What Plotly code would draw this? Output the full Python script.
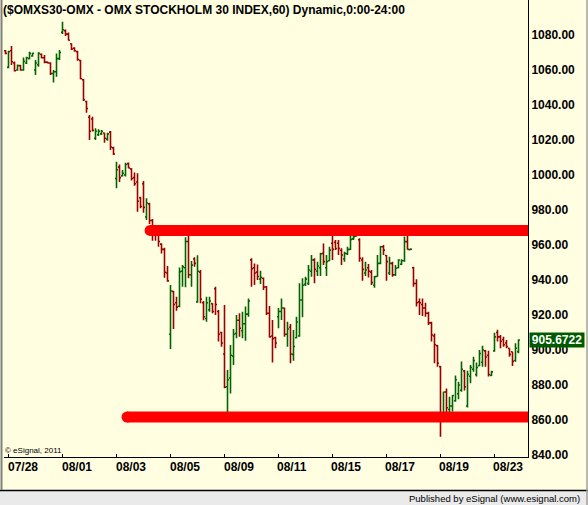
import plotly.graph_objects as go

# ---------------- data (hourly bars, index 0..171) ----------------
opens = [1071, 1061.5, 1071, 1064, 1060, 1062.5, 1060, 1064, 1066.5, 1068,
         1060, 1063, 1069, 1067, 1064.5, 1064, 1058, 1059, 1066.5,
         1081.5, 1082.5, 1080.5, 1075, 1072.5, 1070.5, 1065.5, 1054.5, 1042,
         1033, 1032, 1021, 1023, 1023.5, 1024, 1020.5, 1024.5, 1015.5,
         998, 1004.5, 999.5, 1000, 1006.5, 1003.5, 998.5, 996, 987,
         995, 976, 983.5, 974, 969.5, 967, 960.5, 957.5, 944,
         909, 933.5, 927, 925, 945, 947, 962, 943, 952,
         927.5, 944.5, 927, 918, 923, 926.5, 935, 922, 910,
         897.7, 879, 884, 896.5, 909.5, 917, 911, 915, 920.5,
         951.5, 947, 944.5, 940.5, 941, 936, 921, 908, 907,
         919, 922, 924, 909, 913, 897.5, 907, 908, 928.6,
         937.5, 938, 945, 951.5, 945, 947, 955.2, 947, 951,
         961, 961.5, 961, 957, 952, 955, 957.5, 963.5, 965,
         963, 951.4, 944, 947, 944.5, 937, 942, 949.5, 959,
         954, 944, 949.5, 943, 947, 949, 951, 961.9, 957.3,
         947, 938, 927.5, 926, 924, 921, 915.5, 908, 902.5,
         890.5, 863.8, 876, 866, 868, 871, 875, 877, 888,
         868, 885, 889, 886, 891, 893, 899.5, 897, 885.5,
         899.5, 910, 907.5, 906, 904, 901, 899, 894, 899]
highs = [1071.4, 1071, 1073.7, 1064.8, 1063.2, 1062.9, 1067.1, 1067.6, 1070.5, 1069.9,
         1065.7, 1070.1, 1069.5, 1068.6, 1064.8, 1064.4, 1060, 1069.5, 1071.4,
         1087.6, 1083.2, 1081.5, 1075.2, 1073, 1071, 1065.7, 1054.9, 1042.5,
         1034.3, 1033.3, 1026.7, 1026.1, 1025.7, 1024.2, 1024.2, 1025.1, 1016.2,
         1007.6, 1006, 1002.9, 1007, 1007.2, 1003.8, 1001.5, 1001, 987.6,
         996.6, 986.7, 984.2, 974.9, 970.5, 969.1, 961, 958.5, 948,
         937.2, 933.7, 930.5, 947.2, 948.6, 964.4, 965.1, 950.9, 953,
         954.2, 945.7, 928, 930.5, 930.5, 926.7, 936.2, 922.9, 910.5,
         925.7, 888.6, 902.9, 912, 920, 921, 921.9, 924.8, 929.5,
         952.4, 949.5, 948.9, 945.3, 941.5, 936.6, 925.1, 917.1, 907.6,
         924, 929.5, 924.2, 916.2, 914.9, 911.4, 919, 938.1, 941,
         941.9, 948.6, 954.3, 952.4, 950.5, 955.6, 960.9, 954.3, 959,
         967.2, 962.9, 962.9, 958.1, 956.2, 959, 966.7, 968.9, 967.6,
         963.8, 953, 950.5, 949.2, 945.7, 942.3, 954.3, 959.4, 960,
         954.3, 953.3, 950.5, 948.6, 951.8, 951.8, 964.8, 965.1, 958.1,
         947.6, 940.4, 929.5, 929.5, 927, 921.9, 916.2, 909.5, 902.9,
         890.8, 876.2, 878, 873.3, 874.3, 885.4, 881.9, 893.5, 888.6,
         888.2, 891.4, 896.2, 892.8, 900, 902.5, 900, 899.6, 888.2,
         909.9, 911.6, 908.6, 907.6, 905.7, 901, 899, 903.8, 906]
lows = [1069, 1061, 1062.9, 1059.1, 1059.6, 1059.6, 1059.6, 1063.4, 1066.1, 1067.6,
        1057.1, 1061.9, 1066.7, 1063.8, 1063.8, 1057.1, 1052.8, 1056.2, 1065.7,
        1080.6, 1079.5, 1076.8, 1071.4, 1070.5, 1065.3, 1054.7, 1042.3, 1035.6,
        1020, 1024.8, 1020, 1022.3, 1022.9, 1018.5, 1019.6, 1014.3, 1011.4,
        992.4, 996, 999.1, 999.1, 1003.8, 996.8, 993.9, 979, 981,
        978.5, 974.3, 972, 962.5, 962.5, 959, 955.2, 941.3, 939,
        900.6, 912, 922.5, 924.4, 936.2, 935.8, 941, 936.2, 947.6,
        927, 926.7, 917, 916.2, 921.9, 921, 920, 904.8, 901.9,
        878.1, 860, 875.2, 891.4, 906.7, 907.6, 906.7, 905.3, 919,
        936.2, 937.1, 940, 937.7, 934.3, 920, 907.2, 892.8, 901,
        912.5, 917.1, 907.6, 901.9, 892.4, 893.9, 906.7, 907.6, 918.7,
        936.6, 937.1, 941.9, 938.1, 942.3, 942.3, 948.6, 942.3, 950.9,
        951.4, 957.1, 954.3, 948.6, 950.5, 954.3, 957.1, 962.9, 964.8,
        950.5, 939.6, 942.3, 941.5, 937.1, 935.6, 941.9, 949, 954.3,
        939.6, 942.9, 941.9, 942.3, 946.7, 948.6, 950.5, 957.5, 957.1,
        936.2, 924.8, 920, 919.4, 919, 914.3, 904.8, 892.4, 890.5,
        850.5, 862.9, 864, 861.9, 864.8, 870.5, 871.8, 876.2, 876.8,
        867.2, 881, 887.6, 884.8, 890.9, 890.5, 890.5, 884.8, 885.1,
        899, 904.8, 901, 901.9, 901, 896.2, 890.9, 893.3, 898.1]
closes = [1069.5, 1070.5, 1064.7, 1059.6, 1062.5, 1060, 1065, 1067, 1069.5, 1069.5,
          1064, 1069.5, 1067, 1064.5, 1064, 1058, 1059, 1066.5, 1070,
          1083, 1080.5, 1077, 1072, 1071, 1066, 1055, 1043, 1038,
          1025, 1025.5, 1025, 1025, 1025, 1021, 1023.5, 1016, 1012,
          1003, 998.5, 1001, 1006, 1004, 998, 995, 985, 982,
          981.5, 984, 974, 969, 966, 962, 957.5, 944.4, 939.5,
          933.7, 926, 924.5, 944.8, 947.5, 962, 943, 948.5, 949.5,
          945, 929, 919, 927, 928, 922, 926, 909, 904,
          878.7, 883, 897, 909, 917, 912.4, 915, 920.5, 928,
          946.5, 944, 942, 941.5, 936, 921, 907.5, 906.5, 904,
          922, 924, 909, 912, 897.7, 902, 916, 928.6, 937,
          940.5, 945.7, 951.4, 946.1, 948, 954.9, 950.5, 950.5, 957.1,
          957.5, 958, 958.1, 954.3, 955.2, 957.5, 963.2, 964.8, 967.2,
          952.4, 946.1, 945.7, 945, 938.5, 941.9, 949.5, 959, 957.1,
          950.5, 949.5, 942.9, 946.7, 951.4, 951, 961.9, 957.5, 957.6,
          938, 927, 927, 924, 921, 915.5, 908.6, 903, 892.4,
          864, 876, 867, 868, 874, 883, 880, 889, 879,
          886, 890, 894, 890, 898, 900, 896, 886, 887.5,
          907.5, 907.5, 905, 903, 902, 897.5, 893.5, 901, 905.6722]

# session date labels and the bar index where each labelled session starts
date_labels = ["07/28", "08/01", "08/03", "08/05", "08/09",
               "08/11", "08/15", "08/17", "08/19", "08/23"]
date_bar_index = [1, 19, 37, 55, 73, 91, 109, 127, 145, 163]

y_ticks = [840, 860, 880, 900, 920, 940, 960, 980, 1000, 1020, 1040, 1060, 1080]

# user drawn support / resistance lines: level and start bar
line_levels = [968.3, 861.7]
line_starts = [48.2, 40.5]

last_price_text = "905.6722"

# ---------------- figure ----------------
bars = list(range(len(opens)))
BG = "#FFFEE0"
FONT = "Liberation Sans, Arial, sans-serif"

fig = go.Figure()

for lvl, st in zip(line_levels, line_starts):
    fig.add_trace(go.Scatter(x=[st, 200], y=[lvl, lvl], mode="lines",
                             line=dict(color="#FF0000", width=11),
                             hoverinfo="skip", showlegend=False))
    fig.add_trace(go.Scatter(x=[st], y=[lvl], mode="markers",
                             marker=dict(color="#FF0000", size=11, line=dict(width=0)),
                             hoverinfo="skip", showlegend=False, cliponaxis=True))

fig.add_trace(go.Ohlc(x=bars, open=opens, high=highs, low=lows, close=closes,
                      increasing=dict(line=dict(color="#006400", width=1.6)),
                      decreasing=dict(line=dict(color="#990000", width=1.6)),
                      tickwidth=0.5, showlegend=False))

annotations = []
for lab, idx in zip(date_labels, date_bar_index):
    annotations.append(dict(text=lab, x=idx, xref="x", y=0, yref="paper",
                            xanchor="left", yanchor="top", xshift=-3, yshift=-1,
                            showarrow=False,
                            font=dict(family=FONT, size=12, color="black", weight="bold")))

annotations.append(dict(text="($OMXS30-OMX - OMX STOCKHOLM 30 INDEX,60) Dynamic,0:00-24:00",
                        x=0, xref="paper", y=1, yref="paper", xanchor="left",
                        yanchor="middle", xshift=-3, yshift=-10, showarrow=False,
                        font=dict(family=FONT, size=12, color="black", weight="bold")))
annotations.append(dict(text="© eSignal, 2011", x=0, xref="paper", y=0, yref="paper",
                        xanchor="left", yanchor="middle", xshift=-1, yshift=7,
                        showarrow=False, font=dict(family=FONT, size=8, color="black")))
annotations.append(dict(text="Published by eSignal (www.esignal.com)",
                        x=(582 - 4) / 524, xref="paper", y=(457 - 498) / 457, yref="paper",
                        xanchor="right", yanchor="middle", showarrow=False,
                        font=dict(family=FONT, size=9.5, color="black")))
annotations.append(dict(text=last_price_text, x=1, xref="paper", y=closes[-1], yref="y",
                        xanchor="left", yanchor="middle", xshift=1, showarrow=False,
                        bgcolor="#005A00", borderpad=0, width=54, height=14,
                        font=dict(family=FONT, size=12, color="white", weight="bold")))

def px_x(p):
    return (p - 4) / 524

def px_y(p):
    return (457 - p) / 457

shapes = [
    dict(type="rect", xref="paper", yref="paper", x0=px_x(-2), x1=px_x(590),
         y0=px_y(491), y1=px_y(510), fillcolor="#EAEAEA", line=dict(width=0), layer="below"),
    dict(type="line", xref="paper", yref="paper", x0=px_x(0), x1=px_x(588),
         y0=px_y(490.5), y1=px_y(490.5), line=dict(color="black", width=1.5)),
    dict(type="line", xref="paper", yref="paper", x0=px_x(1.5), x1=px_x(1.5),
         y0=px_y(0), y1=px_y(490), line=dict(color="#808080", width=2)),
    dict(type="line", xref="paper", yref="paper", x0=px_x(587), x1=px_x(587),
         y0=px_y(0), y1=px_y(505), line=dict(color="#A0A0A0", width=1.5)),
]

fig.update_layout(
    width=588, height=505, autosize=False,
    margin=dict(l=4, r=60, t=0, b=48, pad=0),
    paper_bgcolor=BG, plot_bgcolor=BG,
    showlegend=False,
    annotations=annotations, shapes=shapes,
    xaxis=dict(range=[-0.5, 174.17], showgrid=False, zeroline=False,
               showline=True, linecolor="black", linewidth=1,
               ticks="inside", ticklen=3, tickcolor="black",
               tickvals=date_bar_index, showticklabels=False,
               rangeslider=dict(visible=False), fixedrange=True),
    yaxis=dict(side="right", range=[1100 - 457 / 1.75, 1100], showgrid=False,
               zeroline=False, showline=True, linecolor="black", linewidth=1,
               ticks="", tickvals=y_ticks, tickformat=".2f",
               tickfont=dict(family=FONT, size=12, color="black", weight="bold"),
               fixedrange=True),
)

fig.write_html("out.html")
